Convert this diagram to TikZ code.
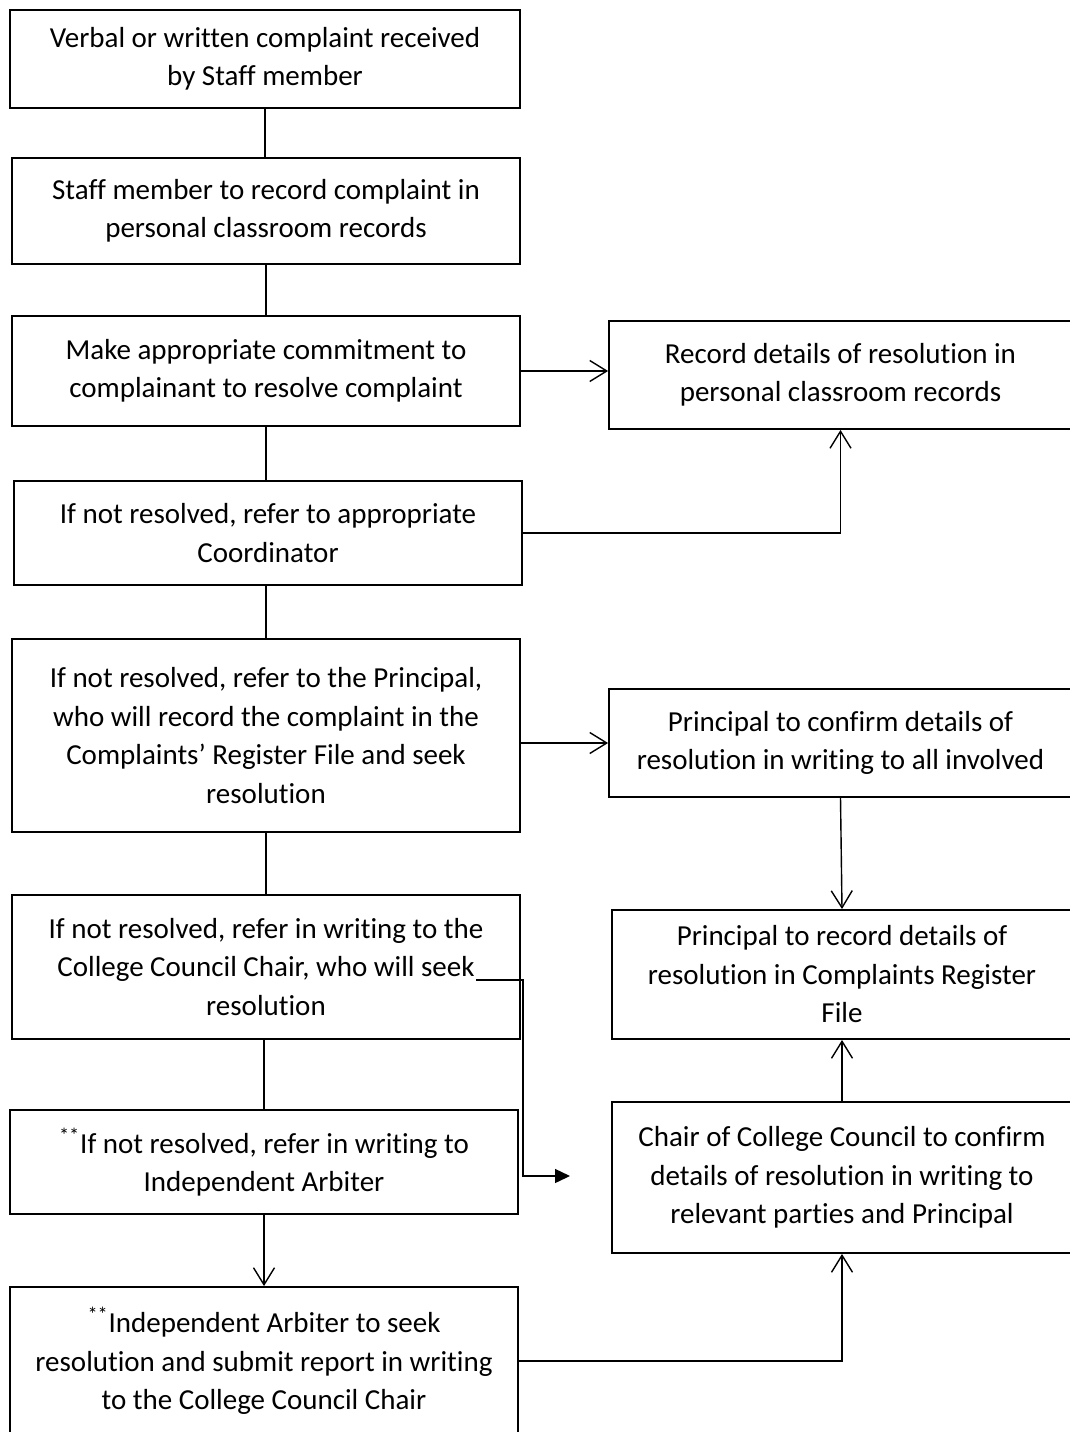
\documentclass[tikz,border=0pt]{standalone}
\usepackage{fontspec}
\setmainfont[Ligatures=NoCommon]{Carlito}
\usetikzlibrary{arrows.meta}

\begin{document}
\begin{tikzpicture}[x=0.02cm,y=-0.02cm,line width=0.8pt,
    box/.style={draw,line width=1.1pt,align=center,inner sep=0pt,
        font=\fontsize{16.5}{21.9}\selectfont},
    open/.style={-{Straight Barb[length=0.34cm,width=0.42cm]}},
    filledtip/.style={-{Triangle[length=0.3cm,width=0.28cm]}}]
                \useasboundingbox (0,0) rectangle (1069,1432);

                \node[box,minimum width=10.2cm,minimum height=1.96cm] (S1) at (265,59)
                    {Verbal or written complaint received\\by Staff member};
                \node[box,minimum width=10.16cm,minimum height=2.12cm] (S2) at (266,211)
                    {Staff member to record complaint in\\personal classroom records};
                \node[box,minimum width=10.16cm,minimum height=2.2cm] (S3) at (266,371)
                    {Make appropriate commitment to\\complainant to resolve complaint};
                \node[box,minimum width=10.16cm,minimum height=2.08cm] (S4) at (268,533)
                    {If not resolved, refer to appropriate\\Coordinator};
                \node[box,minimum width=10.16cm,minimum height=3.86cm] (S5) at (266,735.5)
                    {If not resolved, refer to the Principal,\\who will record the complaint in the\\Complaints’ Register File and seek\\resolution};
                \node[box,minimum width=10.16cm,minimum height=2.88cm] (S6) at (266,967)
                    {If not resolved, refer in writing to the\\College Council Chair, who will seek\\resolution};
                \node[box,minimum width=10.16cm,minimum height=2.08cm] (S7) at (264,1162)
                    {\textsuperscript{**}If not resolved, refer in writing to\\Independent Arbiter};
                \node[box,minimum width=10.16cm,minimum height=2.96cm] (S8) at (264,1361)
                    {\textsuperscript{**}Independent Arbiter to seek\\resolution and submit report in writing\\to the College Council Chair};

                \node[box,minimum width=9.26cm,minimum height=2.16cm] (R1) at (840.5,375)
                    {Record details of resolution in\\personal classroom records};
                \node[box,minimum width=9.26cm,minimum height=2.16cm] (R2) at (840.5,743)
                    {Principal to confirm details of\\resolution in writing to all involved};
                \node[box,minimum width=9.2cm,minimum height=2.58cm] (R3) at (842,974.5)
                    {Principal to record details of\\resolution in Complaints Register\\File};
                \node[box,minimum width=9.2cm,minimum height=3.02cm] (R4) at (842,1177.5)
                    {Chair of College Council to confirm\\details of resolution in writing to\\relevant parties and Principal};

                \draw (S1.south) -- (S1.south |- S2.north);
                \draw (S2.south) -- (S2.south |- S3.north);
                \draw (S3.south) -- (S3.south |- S4.north);
                \draw (S3.south |- S4.south) -- (S3.south |- S5.north);
                \draw (S5.south) -- (S5.south |- S6.north);
                \draw (S7.north |- S6.south) -- (S7.north);
                \draw[open] (S7.south) -- (S8.north);

                \draw[open] (S3.east) -- (S3.east -| R1.west);
                \draw[open] (S4.east) -| (R1.south);
                \draw[open] (S5.east |- R2.west) -- (R2.west);
                \draw[open] (R2.south) -- (R3.north);
                \draw[open] (R4.north) -- (R3.south);
                \draw[open] (S8.east) -| (R4.south);

                \coordinate (seek) at (476,980);
                \coordinate (bend) at (523,980);
                \coordinate (tip) at (570,1176);
                \draw[filledtip] (seek) -- (bend) |- (tip);
            \end{tikzpicture}
\end{document}
